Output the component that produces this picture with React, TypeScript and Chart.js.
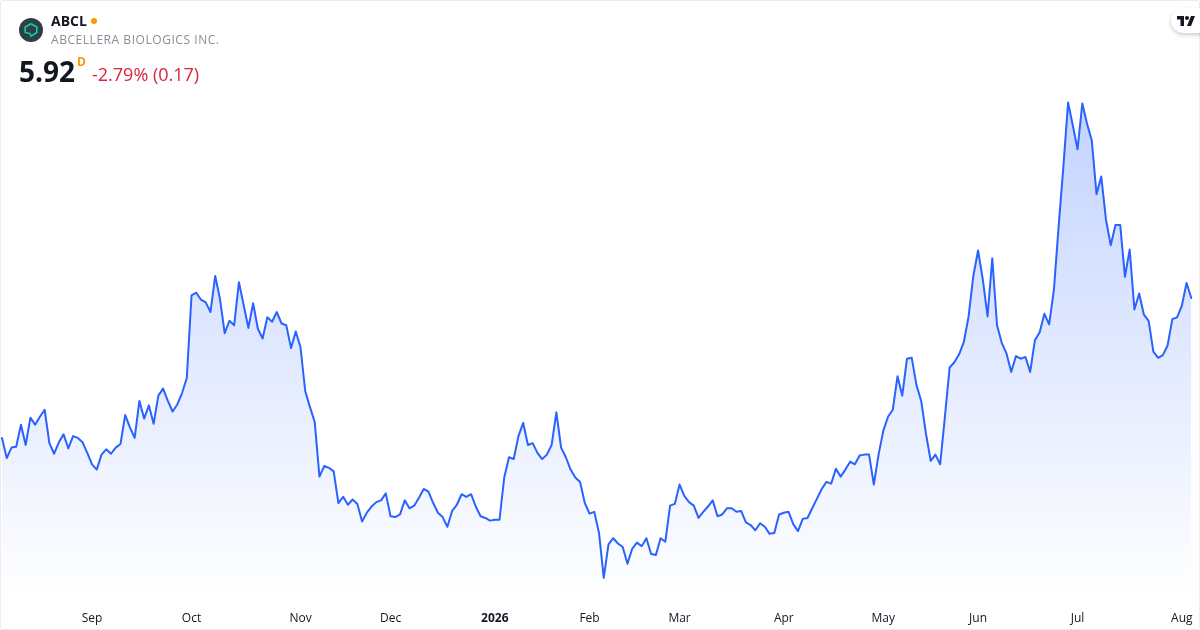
import React, { useEffect, useRef } from "react";
import { Chart, registerables } from "chart.js";

Chart.register(...registerables);

const FONT = '"Open Sans", "Noto Sans", sans-serif';

const prices: number[] = [
  4.33, 4.10, 4.22, 4.23, 4.48, 4.25, 4.56, 4.48, 4.57, 4.65,
  4.27, 4.15, 4.28, 4.37, 4.21, 4.35, 4.33, 4.28, 4.16, 4.03,
  3.97, 4.14, 4.20, 4.15, 4.22, 4.26, 4.59, 4.45, 4.33, 4.75,
  4.55, 4.70, 4.49, 4.81, 4.89, 4.75, 4.63, 4.71, 4.84, 5.01,
  5.95, 5.98, 5.90, 5.87, 5.76, 6.17, 5.91, 5.52, 5.66, 5.61,
  6.10, 5.84, 5.58, 5.86, 5.57, 5.46, 5.70, 5.65, 5.76, 5.63,
  5.61, 5.35, 5.54, 5.36, 4.86, 4.68, 4.51, 3.89, 4.01, 3.99,
  3.95, 3.59, 3.66, 3.57, 3.63, 3.58, 3.38, 3.48, 3.55, 3.60,
  3.62, 3.70, 3.44, 3.43, 3.46, 3.62, 3.53, 3.56, 3.65, 3.75,
  3.72, 3.59, 3.48, 3.43, 3.32, 3.50, 3.57, 3.69, 3.66, 3.69,
  3.55, 3.44, 3.42, 3.39, 3.40, 3.40, 3.88, 4.11, 4.09, 4.35,
  4.50, 4.25, 4.27, 4.16, 4.09, 4.14, 4.25, 4.62, 4.22, 4.11,
  3.97, 3.88, 3.83, 3.59, 3.47, 3.49, 3.25, 2.74, 3.12, 3.19,
  3.13, 3.09, 2.90, 3.07, 3.14, 3.10, 3.19, 3.01, 3.00, 3.19,
  3.15, 3.56, 3.58, 3.80, 3.67, 3.60, 3.56, 3.42, 3.49, 3.55,
  3.62, 3.44, 3.46, 3.53, 3.53, 3.49, 3.50, 3.37, 3.34, 3.28,
  3.36, 3.32, 3.24, 3.25, 3.46, 3.48, 3.49, 3.35, 3.27, 3.41,
  3.42, 3.53, 3.64, 3.75, 3.83, 3.81, 3.98, 3.89, 3.97, 4.06,
  4.03, 4.13, 4.14, 4.14, 3.80, 4.14, 4.41, 4.57, 4.65, 5.03,
  4.81, 5.23, 5.24, 4.93, 4.75, 4.38, 4.07, 4.14, 4.03, 4.57,
  5.13, 5.19, 5.28, 5.42, 5.71, 6.17, 6.46, 6.13, 5.71, 6.37,
  5.61, 5.41, 5.29, 5.08, 5.26, 5.23, 5.25, 5.08, 5.44, 5.53,
  5.74, 5.62, 6.01, 6.73, 7.41, 8.14, 7.88, 7.61, 8.13, 7.90,
  7.71, 7.10, 7.30, 6.81, 6.52, 6.75, 6.75, 6.16, 6.47, 5.79,
  5.97, 5.73, 5.66, 5.31, 5.24, 5.27, 5.38, 5.68, 5.70, 5.83,
  6.09, 5.92,
];

const tickLabels: string[] = ["Sep", "Oct", "Nov", "Dec", "2026", "Feb", "Mar", "Apr", "May", "Jun", "Jul", "Aug"];
const tickIndexes: number[] = [19, 40, 63, 82, 104, 124, 143, 165, 186, 206, 227, 249];

export default function App() {
  const ref = useRef<HTMLCanvasElement | null>(null);

  useEffect(() => {
    const canvas = ref.current;
    if (!canvas) return;
    const chart = new Chart(canvas, {
      type: "line",
      data: {
        datasets: [
          {
            label: "ABCL",
            data: prices.map((y, x) => ({ x, y })),
            borderColor: "#2962FF",
            borderWidth: 2,
            borderJoinStyle: "round",
            borderCapStyle: "round",
            pointRadius: 0,
            tension: 0,
            fill: "start",
            backgroundColor: (ctx: any) => {
              const { chartArea, ctx: c } = ctx.chart;
              if (!chartArea) return "rgba(41,98,255,0.28)";
              const g = c.createLinearGradient(0, 100, 0, 600);
              g.addColorStop(0, "rgba(41,98,255,0.28)");
              g.addColorStop(1, "rgba(41,98,255,0)");
              return g;
            },
          },
        ],
      },
      options: {
        animation: false,
        responsive: false,
        maintainAspectRatio: false,
        layout: { padding: 0 },
        plugins: { legend: { display: false }, tooltip: { enabled: false } },
        scales: {
          x: {
            type: "linear",
            min: -0.422,
            max: 252.84,
            grid: { display: false },
            border: { display: false },
            afterBuildTicks: (scale: any) => {
              scale.ticks = tickIndexes.map((value) => ({ value }));
            },
            afterFit: (scale: any) => {
              scale.height = 30;
            },
            ticks: {
              autoSkip: false,
              maxRotation: 0,
              padding: 3,
              color: "#131722",
              font: (ctx: any) => ({
                family: FONT,
                size: 12,
                weight: tickLabels[tickIndexes.indexOf(ctx.tick?.value)] === "2026" ? "bold" : "normal",
              }),
              callback: (value: any) => tickLabels[tickIndexes.indexOf(Number(value))] ?? "",
            },
          },
          y: {
            display: false,
            min: 2.488,
            max: 9.306,
          },
        },
      },
    } as any);
    return () => chart.destroy();
  }, []);

  return (
    <div style={{ position: "fixed", left: 0, top: 0, width: 1200, height: 630, background: "#fff", overflow: "hidden", fontFamily: FONT }}>
      <canvas ref={ref} width={1200} height={630} style={{ position: "absolute", left: 0, top: 0, width: 1200, height: 630 }} />
      <div style={{ position: "absolute", left: 0, top: 0, width: 1198, height: 628, border: "1px solid #ececec", borderRadius: 3, pointerEvents: "none" }} />
      <svg width="24" height="24" viewBox="0 0 24 24" style={{ position: "absolute", left: 19, top: 18 }}>
        <circle cx="12" cy="12" r="12" fill="#2e3f47" />
        <path d="M12 5.8 L17.8 9 L17.8 14.5 L12 18.2 L11 15.5 L6.2 14.5 L6.2 9 Z" fill="none" stroke="#10d0a0" strokeWidth="1.6" strokeLinejoin="round" />
      </svg>
      <div style={{ position: "absolute", left: 51, top: 11, fontSize: 14, lineHeight: "20px", fontWeight: 700, color: "#131722" }}>ABCL</div>
      <div style={{ position: "absolute", left: 91, top: 17.5, width: 6, height: 6, borderRadius: 3, background: "#FF9800" }} />
      <div style={{ position: "absolute", left: 51, top: 31, fontSize: 12, lineHeight: "18px", letterSpacing: 0.55, color: "#8a8d97", whiteSpace: "nowrap" }}>ABCELLERA BIOLOGICS INC.</div>
      <div style={{ position: "absolute", left: 19, top: 51, fontSize: 28, lineHeight: "40px", fontWeight: 700, color: "#131722" }}>5.92</div>
      <div style={{ position: "absolute", left: 77, top: 54, fontSize: 12, lineHeight: "16px", fontWeight: 700, color: "#FF9800" }}>D</div>
      <div style={{ position: "absolute", left: 92, top: 62, fontSize: 18, lineHeight: "24px", color: "#d7263d", whiteSpace: "nowrap" }}>-2.79% (0.17)</div>
      <div style={{ position: "absolute", left: 1171, top: 8, width: 40, height: 25, borderRadius: 12.5, background: "#fff", boxShadow: "0 2px 4px rgba(0,0,0,0.2)" }}>
        <svg width="18" height="10" viewBox="0 0 36 20" style={{ position: "absolute", left: 6, top: 8 }} fill="#131722">
          <path d="M0 0h14v20H7V7H0z" />
          <circle cx="20" cy="4" r="4" />
          <path d="M28 0h8l-8 20h-8z" />
        </svg>
      </div>
    </div>
  );
}
